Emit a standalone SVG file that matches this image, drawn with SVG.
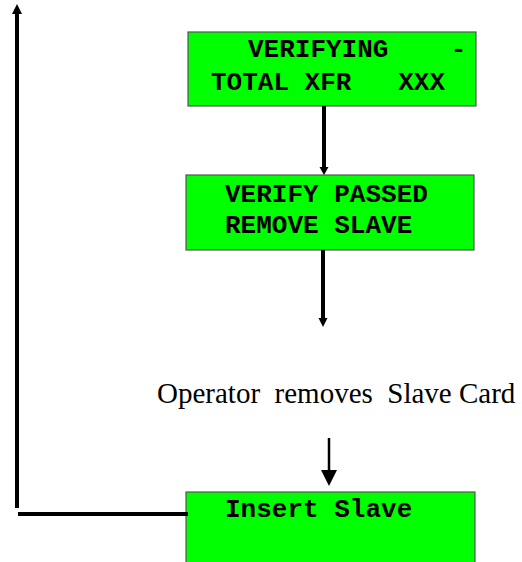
<svg xmlns="http://www.w3.org/2000/svg" width="522" height="562" viewBox="0 0 522 562">
<style>
.box{fill:#00ff00;stroke:#555;stroke-width:1.2}
.lcd{font-family:"Liberation Mono","Courier New",monospace;font-weight:bold;font-size:26px;fill:#000;white-space:pre}
.cap{font-family:"Liberation Serif","Times New Roman",serif;font-size:29px;fill:#000;white-space:pre}
.thick{stroke:#000;stroke-width:4;fill:none}
.thin{stroke:#000;stroke-width:2.5;fill:none}
</style>
<rect width="522" height="562" fill="#fff"/>
<g id="node-verifying">
<rect class="box" x="188" y="32" width="288" height="74"/>
<text class="lcd" x="248" y="57">VERIFYING    -</text>
<text class="lcd" x="211" y="90">TOTAL XFR   XXX</text>
</g>
<g id="node-verify-passed">
<rect class="box" x="186" y="175" width="288" height="75"/>
<text class="lcd" x="225" y="202">VERIFY PASSED</text>
<text class="lcd" x="225" y="233">REMOVE SLAVE</text>
</g>
<g id="node-operator">
<text class="cap" x="157" y="403">Operator  removes  Slave Card</text>
</g>
<g id="node-insert-slave">
<rect class="box" x="186" y="492" width="289" height="80"/>
<text class="lcd" x="225" y="517">Insert Slave</text>
</g>
<g id="connectors">
<line class="thick" x1="324" y1="106" x2="324" y2="168"/>
<polygon points="319.5,167 328.5,167 324,175"/>
<line class="thick" x1="323" y1="250" x2="323" y2="319"/>
<polygon points="318.5,318 327.5,318 323,327"/>
<line class="thin" x1="329" y1="438" x2="329" y2="472"/>
<polygon points="321,470 337,470 329,486"/>
<line class="thick" x1="17" y1="508" x2="17" y2="13"/>
<polygon points="12,14 22,14 17,4"/>
<line class="thick" x1="18" y1="514" x2="188" y2="514"/>
</g>
</svg>
